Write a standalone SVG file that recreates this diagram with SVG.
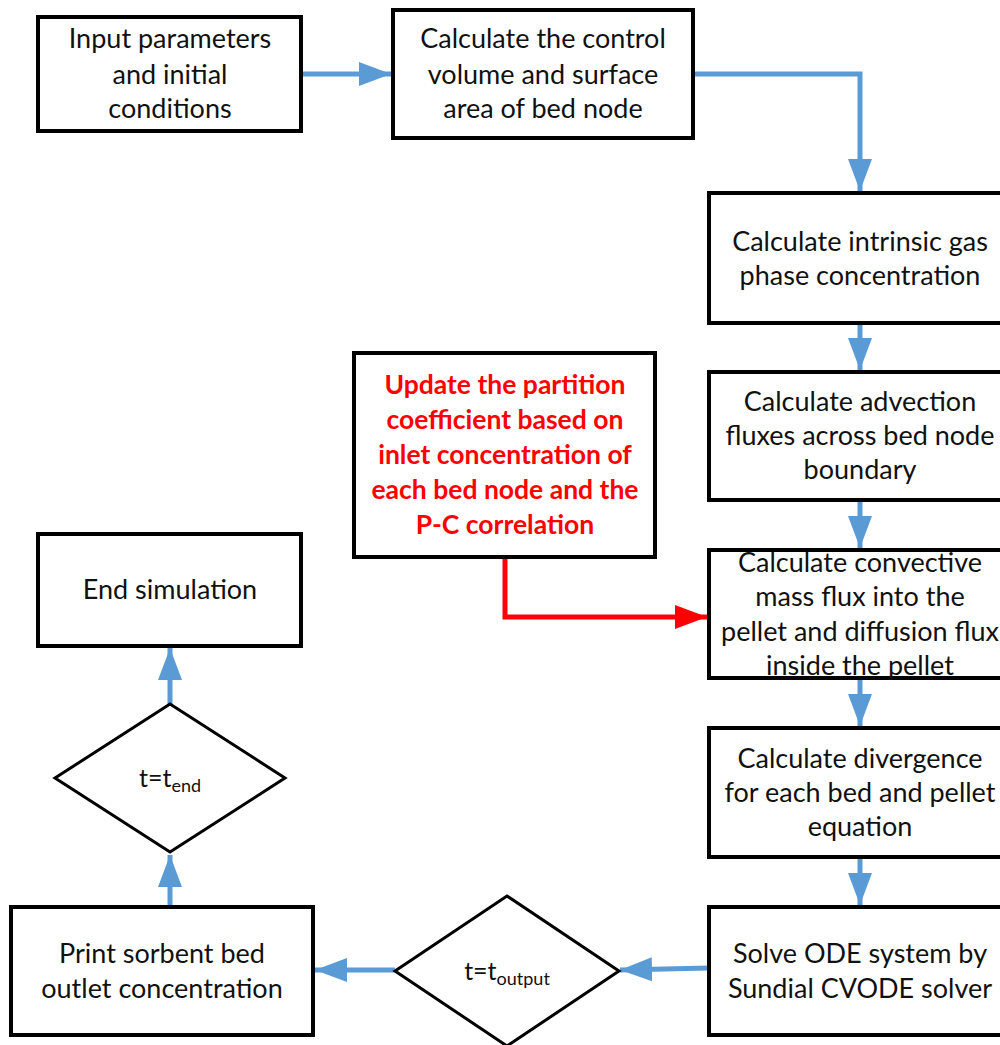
<svg xmlns="http://www.w3.org/2000/svg" width="1000" height="1045" viewBox="0 0 1000 1045">
<style>
.box{fill:#fff;stroke:#000;stroke-width:4}
.dia{fill:#fff;stroke:#000;stroke-width:3}
.t{font-family:Lato,"Liberation Sans",sans-serif;font-size:27px;fill:#111;text-anchor:middle}
.r{font-family:Lato,"Liberation Sans",sans-serif;font-size:26.5px;font-weight:bold;fill:#ff0000;text-anchor:middle}
.blue{fill:none;stroke:#5B9BD5;stroke-width:5}
.red{fill:none;stroke:#ff0000;stroke-width:5}
</style>
<defs>
<marker id="ab" markerUnits="userSpaceOnUse" markerWidth="34" markerHeight="24" refX="32" refY="12" orient="auto"><path d="M0,0 L32,12 L0,24 Z" fill="#5B9BD5"/></marker>
<marker id="ar" markerUnits="userSpaceOnUse" markerWidth="34" markerHeight="24" refX="32" refY="12" orient="auto"><path d="M0,0 L32,12 L0,24 Z" fill="#ff0000"/></marker>
</defs>
<rect width="1000" height="1045" fill="#fff"/>
<g id="connectors">
<path class="blue" d="M301,74 H391" marker-end="url(#ab)"/>
<path class="blue" d="M693,74 H860 V191" marker-end="url(#ab)"/>
<path class="blue" d="M860,323 V370" marker-end="url(#ab)"/>
<path class="blue" d="M860,500 V548" marker-end="url(#ab)"/>
<path class="blue" d="M860,678 V726" marker-end="url(#ab)"/>
<path class="blue" d="M860,857 V905" marker-end="url(#ab)"/>
<path class="blue" d="M709,968 L620,970" marker-end="url(#ab)"/>
<path class="blue" d="M395,970 H315" marker-end="url(#ab)"/>
<path class="blue" d="M170,907 V855" marker-end="url(#ab)"/>
<path class="blue" d="M170,704 V648" marker-end="url(#ab)"/>
<path class="red" d="M505,557 V617 H707" marker-end="url(#ar)"/>
</g>
<g id="n1"><rect class="box" x="38" y="17" width="263" height="114"/>
<text class="t" x="170" y="48">Input parameters</text><text class="t" x="170" y="84">and initial</text><text class="t" x="170" y="118">conditions</text></g>
<g id="n2"><rect class="box" x="393" y="10" width="300" height="128"/>
<text class="t" x="543" y="48">Calculate the control</text><text class="t" x="543" y="84">volume and surface</text><text class="t" x="543" y="118">area of bed node</text></g>
<g id="n3"><rect class="box" x="709" y="193" width="302" height="130"/>
<text class="t" x="860" y="251">Calculate intrinsic gas</text><text class="t" x="860" y="285">phase concentration</text></g>
<g id="n4"><rect class="box" x="709" y="372" width="302" height="128"/>
<text class="t" x="860" y="411">Calculate advection</text><text class="t" x="860" y="445">fluxes across bed node</text><text class="t" x="860" y="479">boundary</text></g>
<g id="n5"><rect class="box" x="709" y="550" width="302" height="128"/>
<text class="t" x="860" y="572">Calculate convective</text><text class="t" x="860" y="606">mass flux into the</text><text class="t" x="860" y="641">pellet and diffusion flux</text><text class="t" x="860" y="675">inside the pellet</text></g>
<g id="n6"><rect class="box" x="709" y="728" width="302" height="129"/>
<text class="t" x="860" y="768">Calculate divergence</text><text class="t" x="860" y="802">for each bed and pellet</text><text class="t" x="860" y="836">equation</text></g>
<g id="n7"><rect class="box" x="709" y="907" width="302" height="128"/>
<text class="t" x="860" y="963">Solve ODE system by</text><text class="t" x="860" y="998">Sundial CVODE solver</text></g>
<g id="n8"><rect class="box" x="354" y="353" width="301" height="204"/>
<text class="r" x="505" y="394">Update the partition</text><text class="r" x="505" y="429">coefficient based on</text><text class="r" x="505" y="464">inlet concentration of</text><text class="r" x="505" y="499">each bed node and the</text><text class="r" x="505" y="534">P-C correlation</text></g>
<g id="n9"><rect class="box" x="38" y="534" width="263" height="112"/>
<text class="t" x="170" y="599">End simulation</text></g>
<g id="n10"><polygon class="dia" points="170,704 285,778 170,852 55,778"/>
<text class="t" x="170" y="787" style="font-size:25px">t=t<tspan dy="5" style="font-size:18px">end</tspan></text></g>
<g id="n11"><rect class="box" x="11" y="907" width="302" height="128"/>
<text class="t" x="162" y="963">Print sorbent bed</text><text class="t" x="162" y="998">outlet concentration</text></g>
<g id="n12"><polygon class="dia" points="507,896 619,971 507,1046 395,971"/>
<text class="t" x="507" y="980" style="font-size:25px">t=t<tspan dy="5" style="font-size:18px">output</tspan></text></g>
</svg>
